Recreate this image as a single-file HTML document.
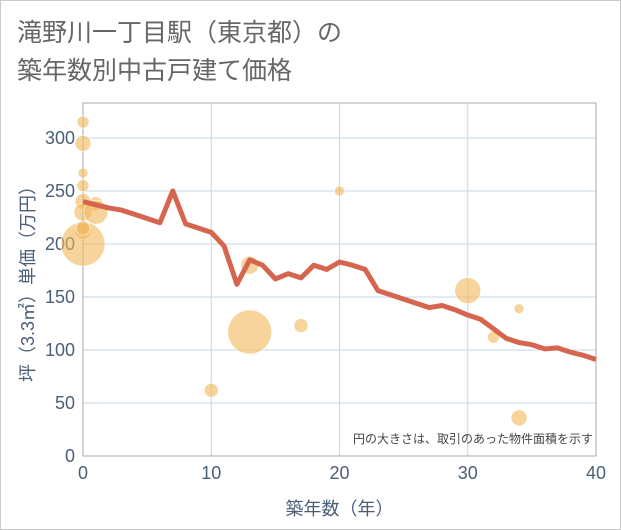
<!DOCTYPE html>
<html><head><meta charset="utf-8">
<style>
body{margin:0;background:#fff;font-family:"Liberation Sans","Noto Sans CJK JP",sans-serif;}
#wrap{position:relative;width:619px;height:528px;border:1px solid #ccc;background:#fff;}
#title{position:absolute;left:16px;top:13px;font-size:25px;line-height:38px;color:#666;font-family:"Liberation Sans","Noto Sans CJK JP",sans-serif;}
</style></head><body>
<div id="wrap">
<div id="title">滝野川一丁目駅（東京都）の<br>築年数別中古戸建て価格</div>
<svg id="chart" width="621" height="530" style="position:absolute;left:-1px;top:-1px"></svg>
</div>
<script>
const lineX=[0,1,2,3,4,5,6,7,8,9,10,11,12,13,14,15,16,17,18,19,20,21,22,23,24,25,26,27,28,29,30,31,32,33,34,35,36,37,38,39,40];
const lineY=[240,237,234,232,228,224,220,250,219,215,211,198,162,185,180,167,172,168,180,176,183,180,176,156,152,148,144,140,142,138,133,129,120,111,107,105,101,102,98,95,91];
const bubX=[0,0,0,0,0,1,0,1,0,0,0,13,13,17,10,20,30,32,34,34];
const bubY=[315,295,267,255,240,238,230,230,212,200,215,180,117,123,62,250,156,112,139,36];
const bubR=[6,8,5,6,8,7,9,12,8,22,7,9,22,7,7,5,13,6,5,8];
const xTicks=[0,10,20,30,40];
const yTicks=[0,50,100,150,200,250,300];
const L=83,R=596,T=103,B=456;
const sx=v=>L+v*(R-L)/40;
const sy=v=>B-v*(B-T)/333;
const svg=document.getElementById('chart');
const NS='http://www.w3.org/2000/svg';
function mk(t,a){const e=document.createElementNS(NS,t);for(const k in a)e.setAttribute(k,a[k]);svg.appendChild(e);return e;}
xTicks.forEach(v=>{
 const g=mk('line',{x1:sx(v),x2:sx(v),y1:T,y2:B,stroke:'#c5d5e5','stroke-width':1});
 
 
 const t=mk('text',{x:sx(v),y:B+23,'text-anchor':'middle','font-size':18,fill:'#4a5f78'});
 t.textContent=v;
 
 
});
yTicks.forEach(v=>{
 const g=mk('line',{x1:L,x2:R,y1:sy(v),y2:sy(v),stroke:'#c5d5e5','stroke-width':1});
 
 
 const t=mk('text',{x:L-8,y:sy(v)+6,'text-anchor':'end','font-size':18,fill:'#4a5f78'});
 t.textContent=v;
 
 
});
const box=mk('rect',{x:L,y:T,width:R-L,height:B-T,fill:'none',stroke:'#aaa','stroke-width':1});


bubX.forEach((x,i)=>{
 const c=mk('circle',{cx:sx(x),cy:sy(bubY[i]),r:bubR[i],fill:'#f1b75a','fill-opacity':0.6,stroke:'#fff','stroke-width':0.6});
 
 
});
const p=mk('polyline',{points:lineX.map((x,i)=>sx(x)+','+sy(lineY[i])).join(' '),fill:'none',stroke:'#d5654f','stroke-width':5,'stroke-linejoin':'round'});


const n=mk('text',{x:R-3,y:B-13,'text-anchor':'end','font-size':12,fill:'#444'});
n.textContent='円の大きさは、取引のあった物件面積を示す';


const xt=mk('text',{x:(L+R)/2,y:B+59,'text-anchor':'middle','font-size':18,fill:'#4a5f78'});
xt.textContent='築年数（年）';


const yt=mk('text',{x:0,y:0,'text-anchor':'middle','font-size':18,fill:'#4a5f78',transform:'translate(34,'+((T+B)/2)+') rotate(-90)'});
yt.textContent='坪（3.3㎡）単価（万円）';


</script>
</body></html>
